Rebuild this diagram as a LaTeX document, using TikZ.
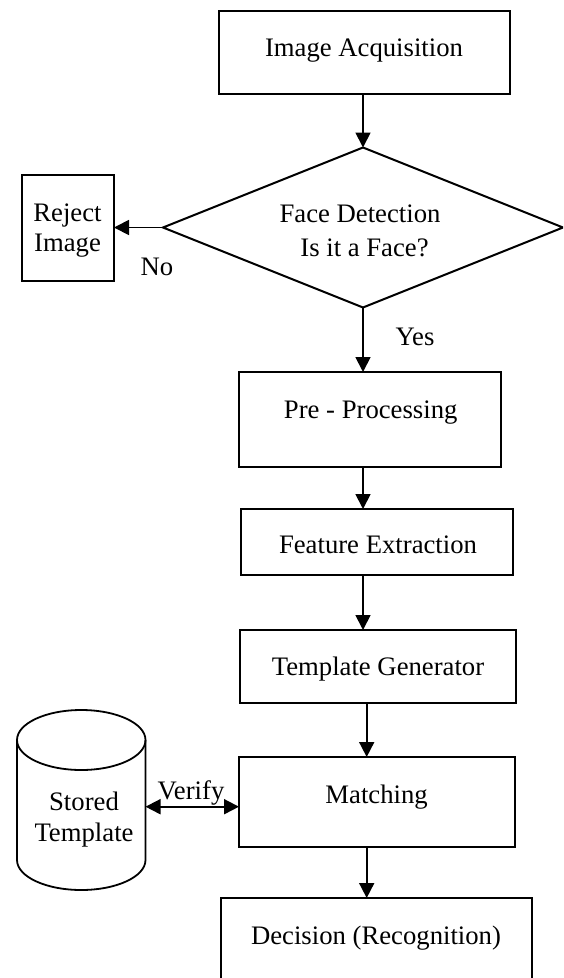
\documentclass[tikz,border=0pt]{standalone}
\usepackage{fontspec}
\setmainfont{Liberation Serif}
\usetikzlibrary{shapes.geometric,arrows.meta}
\begin{document}
\begin{tikzpicture}[x=1pt,y=-1pt,
  box/.style={draw, line width=1.8pt, inner sep=0pt, outer sep=0pt, rectangle},
  dbox/.style={draw, line width=2pt, inner sep=0pt, outer sep=0pt, diamond},
  txt/.style={font=\fontsize{26.7pt}{31pt}\selectfont, anchor=base, inner sep=0pt},
  tip/.tip={Triangle[length=15pt,width=15pt]},
  arr/.style={line width=1.8pt, -tip},
  darr/.style={line width=1.8pt, tip-tip}]
\clip (0,0) rectangle (563,978);
% boxes
\node[box, minimum width=291pt, minimum height=83pt] (acq) at (364.5,52.5) {};
\node[dbox, minimum width=400pt, minimum height=160pt] (dia) at (363,227.5) {};
\node[box, minimum width=92.3pt, minimum height=105.7pt] (rej) at (67.85,227.85) {};
\node[box, minimum width=262pt, minimum height=95pt] (pre) at (370,419.5) {};
\node[box, minimum width=272pt, minimum height=66pt] (feat) at (377,542) {};
\node[box, minimum width=275.6pt, minimum height=73pt] (tmpl) at (377.8,666.5) {};
\node[box, minimum width=276pt, minimum height=90pt] (match) at (377,802) {};
\node[box, minimum width=311pt, minimum height=90pt] (dec) at (376.2,943) {};
% stored template cylinder
\node[inner sep=0pt, outer sep=0pt, minimum width=128.5pt, minimum height=180pt] (stor) at (81.25,800) {};
\draw[line width=1.8pt] (81.25,740) ellipse [x radius=64.25pt, y radius=30pt];
\draw[line width=1.8pt] (17,740) -- (17,860)
  .. controls (17,876.6) and (45.8,890) .. (81.25,890)
  .. controls (116.7,890) and (145.5,876.6) .. (145.5,860) -- (145.5,740);
% connectors
\coordinate (c2) at (366.7,0);
\coordinate (vy) at (0,806.7);
\draw[arr] (dia.north |- acq.south) -- (dia.north);
\draw[arr] (dia.west) -- (rej.east |- dia.west);
\draw[arr] (dia.south) -- (dia.south |- pre.north);
\draw[arr] (dia.south |- pre.south) -- (dia.south |- feat.north);
\draw[arr] (dia.south |- feat.south) -- (dia.south |- tmpl.north);
\draw[arr] (c2 |- tmpl.south) -- (c2 |- match.north);
\draw[arr] (c2 |- match.south) -- (c2 |- dec.north);
\draw[darr] (stor.east |- vy) -- (match.west |- vy);
% texts
\node[txt] (tacq) at (364,56) {Image Acquisition};
\node[txt] (tfd1) at (360,222.5) {Face Detection};
\node[txt] (tfd2) at (364.5,256.5) {Is it a Face?};
\node[txt] (trj1) at (67.5,221.5) {Reject};
\node[txt] (trj2) at (67.5,251.5) {Image};
\node[txt] (tno) at (157,275.5) {No};
\node[txt] (tyes) at (415,345.5) {Yes};
\node[txt] (tpre) at (370.7,418.5) {Pre - Processing};
\node[txt] (tfeat) at (378,553.5) {Feature Extraction};
\node[txt] (ttmpl) at (378,675.5) {Template Generator};
\node[txt] (tmat) at (376.6,803.5) {Matching};
\node[txt] (tdec) at (376,944) {Decision (Recognition)};
\node[txt] (tver) at (191,799) {Verify};
\node[txt] (tst1) at (84,810.5) {Stored};
\node[txt] (tst2) at (84,841.5) {Template};
\end{tikzpicture}
\end{document}
